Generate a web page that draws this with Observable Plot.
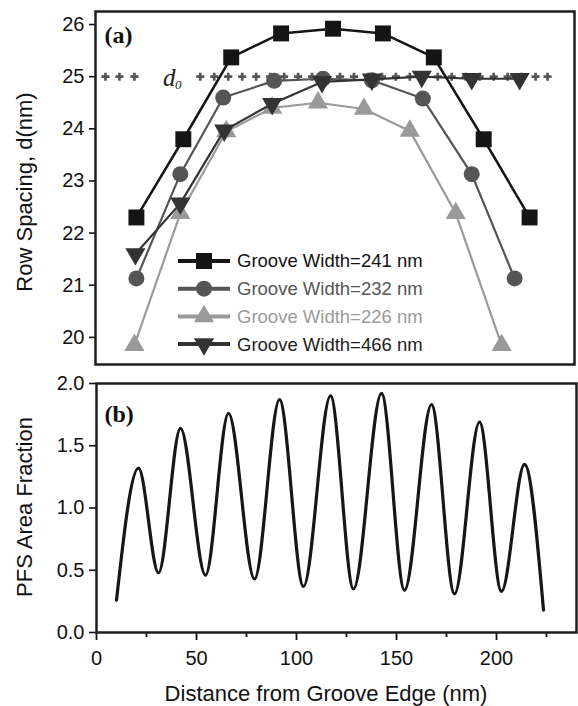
<!DOCTYPE html>
<html><head><meta charset="utf-8">
<script src="https://cdn.jsdelivr.net/npm/d3@7"></script>
<script src="https://cdn.jsdelivr.net/npm/@observablehq/plot@0.6"></script>
<style>
body{margin:0;background:#fff;}
#wrap{position:relative;width:578px;height:706px;font-family:"Liberation Sans",Arial,sans-serif;color:#111;overflow:hidden;}
#top,#bot,#legend{position:absolute;left:0;}
#top{top:0}
#bot{top:372px}
#legend{top:0;pointer-events:none}
.ttl{position:absolute;font-size:22px;color:#111;white-space:nowrap;}
</style></head><body>
<div id="wrap">
  <div id="top"></div>
  <div id="bot"></div>
  <svg id="legend" width="578" height="372"></svg>
  <div class="ttl" style="left:25px;top:192px;transform:translate(-50%,-50%) rotate(-90deg);">Row Spacing, d(nm)</div>
  <div class="ttl" style="left:25px;top:507px;transform:translate(-50%,-50%) rotate(-90deg);">PFS Area Fraction</div>
  <div class="ttl" style="left:326px;top:694px;transform:translate(-50%,-50%);">Distance from Groove Edge (nm)</div>
</div>
<script>
// ---- Panel (a): row spacing vs distance ----
const seriesNames = ["Groove Width=241 nm", "Groove Width=232 nm", "Groove Width=226 nm", "Groove Width=466 nm"];
const groove241X = [20.5, 44, 68, 93, 119, 144, 169.5, 194.5, 217.5];
const groove241Y = [22.3, 23.8, 25.37, 25.83, 25.92, 25.83, 25.37, 23.8, 22.3];
const groove232X = [20.5, 42.5, 64, 89.5, 114, 138.5, 164, 188.5, 210];
const groove232Y = [21.13, 23.13, 24.6, 24.92, 24.96, 24.93, 24.58, 23.13, 21.13];
const groove226X = [19.5, 42.5, 65.5, 88.5, 111.5, 134.5, 157.5, 180.5, 203.5];
const groove226Y = [19.85, 22.38, 23.95, 24.4, 24.5, 24.38, 23.96, 22.38, 19.85];
const groove466X = [20, 42.5, 64.5, 88.5, 113.5, 138.5, 163.5, 188.5, 212.5];
const groove466Y = [21.6, 22.57, 23.97, 24.48, 24.9, 24.95, 25.0, 24.96, 24.96];
const d0Value = 25.0;
const d0MarkerX = [5, 12, 19.5, 52.5, 59.5, 66.5, 73.5, 80.5, 87.5, 94.5, 101.5, 108.5, 115.5, 122.5, 129.5, 136.5, 143.5, 150.5, 157.5, 164.5, 171.5, 178.5, 185.5, 192.5, 199.5, 206.5, 213.5, 220.5, 226.5];
const d0LabelX = 37;
const rowSpacingTicks = [20, 21, 22, 23, 24, 25, 26];

// ---- Panel (b): PFS area fraction ----
const pfsX = [10, 21, 31, 42, 54.5, 66, 79, 91.5, 103.5, 117, 128.5, 142.5, 154, 167.5, 179, 191.5, 202.5, 214, 223.5];
const pfsY = [0.26, 1.32, 0.48, 1.64, 0.46, 1.76, 0.43, 1.87, 0.37, 1.90, 0.35, 1.92, 0.34, 1.83, 0.31, 1.69, 0.33, 1.35, 0.18];
const pfsTicks = [0, 0.5, 1.0, 1.5, 2.0];
const distMajorTicks = [0, 50, 100, 150, 200];
const distMinorTicks = [25, 75, 125, 175, 225];

const styles = [
  {name: seriesNames[1], xs: groove232X, ys: groove232Y, color: "#555555", symbol: "circle", r: 8, rotate: 0, sw: 2.2, text: "#555555"},
  {name: seriesNames[2], xs: groove226X, ys: groove226Y, color: "#9a9a9a", symbol: "triangle", r: 7.5, rotate: 0, sw: 2.2, text: "#9a9a9a"},
  {name: seriesNames[3], xs: groove466X, ys: groove466Y, color: "#333333", symbol: "triangle", r: 7.5, rotate: 180, sw: 2.2, text: "#222222"},
  {name: seriesNames[0], xs: groove241X, ys: groove241Y, color: "#151515", symbol: "square", r: 9, rotate: 0, sw: 2.5, text: "#111111"}
];
const drawOrder = [1, 0, 2, 3]; // 226 bottom, then 232, 466, 241 on top

const font = "'Liberation Sans', Arial, sans-serif";
const serif = "'Liberation Serif', 'Times New Roman', serif";

const seriesMarks = drawOrder.flatMap(i => {
  const s = styles[i];
  const rows = s.xs.map((x, k) => ({x, y: s.ys[k]}));
  return [
    Plot.line(rows, {x: "x", y: "y", stroke: s.color, strokeWidth: s.sw}),
    Plot.dot(rows, {x: "x", y: "y", symbol: s.symbol, r: s.r, fill: s.color, stroke: "none", rotate: s.rotate})
  ];
});

const topPlot = Plot.plot({
  width: 578, height: 372,
  marginLeft: 95, marginRight: 4, marginTop: 11, marginBottom: 8,
  x: {domain: [0, 240], axis: null},
  y: {domain: [19.48, 26.25], axis: null},
  style: {fontFamily: font, fontSize: "20px", color: "#111", background: "transparent", overflow: "visible"},
  marks: [
    Plot.axisY({ticks: rowSpacingTicks, tickSize: 6, tickPadding: 5, tickFormat: d3.format("d"), label: null, strokeWidth: 1.6}),
    Plot.dot(d0MarkerX, {x: d => d, y: () => d0Value, symbol: "cross", r: 3.4, fill: "#555", stroke: "none"}),
    Plot.text(["d"], {x: () => d0LabelX, y: () => d0Value, text: d => d, fontFamily: serif, fontStyle: "italic", fontSize: 25, textAnchor: "middle", dy: 1, fill: "#222"}),
    Plot.text(["0"], {x: () => d0LabelX + 4.5, y: () => d0Value, text: d => d, fontFamily: serif, fontStyle: "italic", fontSize: 13, textAnchor: "middle", dy: 8, fill: "#222"}),
    ...seriesMarks,
    Plot.text(["(a)"], {frameAnchor: "top-left", text: d => d, textAnchor: "start", lineAnchor: "middle", dx: 9, dy: 24, fontFamily: serif, fontWeight: "bold", fontSize: 24, fill: "#111"}),
    Plot.frame({stroke: "#1e1e1e", strokeWidth: 2.5})
  ]
});
document.getElementById("top").append(topPlot);

const pfsRows = pfsX.map((x, i) => ({x, y: pfsY[i]}));
const botPlot = Plot.plot({
  width: 578, height: 334,
  marginLeft: 96, marginRight: 2, marginTop: 11, marginBottom: 74,
  x: {domain: [0, 240], axis: null},
  y: {domain: [0, 2.0], axis: null},
  style: {fontFamily: font, fontSize: "20px", color: "#111", background: "transparent", overflow: "visible"},
  marks: [
    Plot.axisY({ticks: pfsTicks, tickSize: 7, tickPadding: 5, tickFormat: d3.format(".1f"), label: null, strokeWidth: 1.6}),
    Plot.axisX({ticks: distMajorTicks, tickSize: 8, tickPadding: 10, tickFormat: d3.format("d"), label: null, strokeWidth: 1.8}),
    Plot.axisX({ticks: distMinorTicks, tickSize: 5, tickFormat: () => "", label: null, strokeWidth: 1.8}),
    Plot.line(pfsRows, {x: "x", y: "y", curve: "monotone-x", stroke: "#161616", strokeWidth: 3.2}),
    Plot.text(["(b)"], {frameAnchor: "top-left", text: d => d, textAnchor: "start", lineAnchor: "middle", dx: 8, dy: 31, fontFamily: serif, fontWeight: "bold", fontSize: 24, fill: "#111"}),
    Plot.frame({stroke: "#1e1e1e", strokeWidth: 2.5})
  ]
});
document.getElementById("bot").append(botPlot);

// ---- Legend (inside panel a) ----
const leg = d3.select("#legend");
const legendOrder = [3, 0, 1, 2];
legendOrder.forEach((si, row) => {
  const s = styles[si];
  const cy = 261 + row * 27.7;
  const g = leg.append("g");
  g.append("line").attr("x1", 178).attr("x2", 230).attr("y1", cy).attr("y2", cy)
    .attr("stroke", s.color).attr("stroke-width", 4);
  const symType = s.symbol === "square" ? d3.symbolSquare : s.symbol === "circle" ? d3.symbolCircle : d3.symbolTriangle;
  g.append("path").attr("d", d3.symbol(symType, Math.PI * s.r * s.r)())
    .attr("transform", `translate(204,${cy}) rotate(${s.rotate})`)
    .attr("fill", s.color);
  g.append("text").attr("x", 237).attr("y", cy).attr("dy", "0.35em")
    .attr("font-family", font).attr("font-size", 18.5).attr("fill", s.text)
    .text(s.name);
});
</script>
</body></html>
